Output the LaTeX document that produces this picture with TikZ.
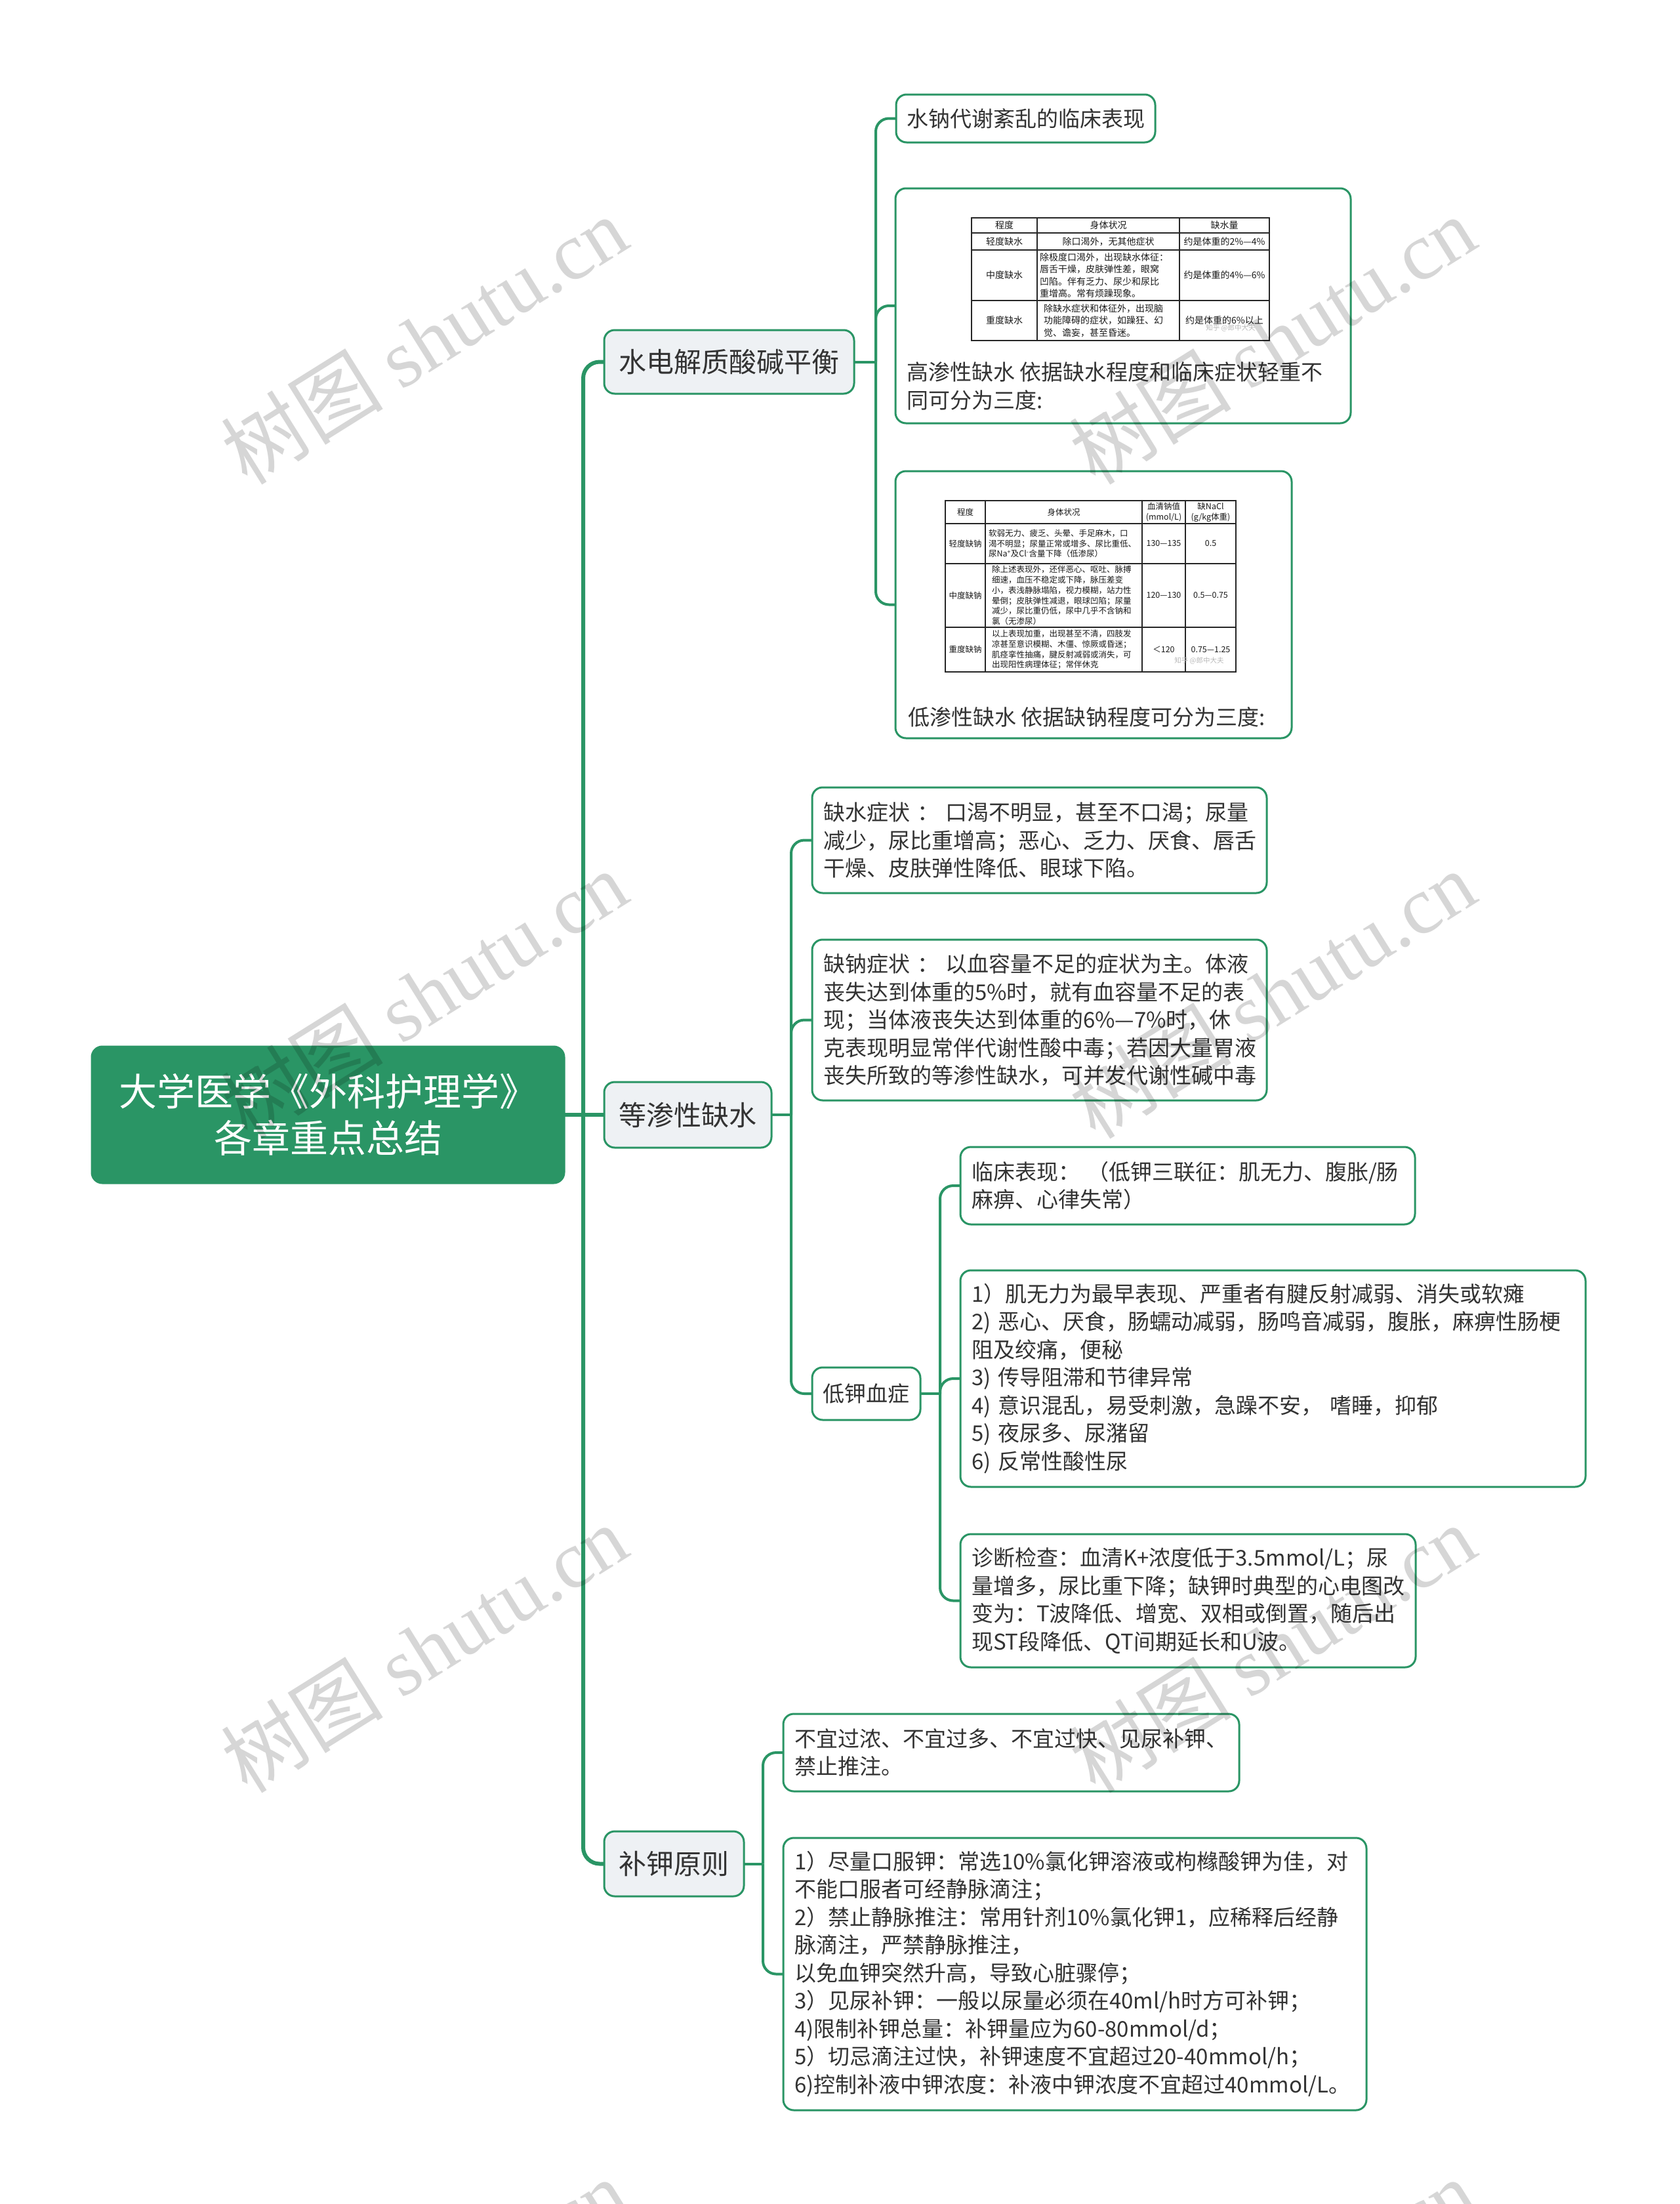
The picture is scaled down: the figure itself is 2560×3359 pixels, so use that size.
\documentclass[tikz,border=0pt]{standalone}
\usepackage{fontspec}
\setmainfont{Noto Sans CJK SC}
\newfontfamily\wmserif{Liberation Serif}
\definecolor{G}{HTML}{2A9565}
\definecolor{LF}{HTML}{EEF1F4}
\definecolor{TX}{HTML}{333333}
\begin{document}
\begin{tikzpicture}[x=1pt,y=-1pt,
  every node/.style={inner sep=0pt, outer sep=0pt, text=TX},
  rootbox/.style={fill=G, draw=G, line width=3pt, rounded corners=16pt, text=white, align=center, font=\fontsize{58}{71}\selectfont},
  topicbox/.style={fill=LF, draw=G, line width=3pt, rounded corners=16pt, align=center, font=\fontsize{42}{50}\selectfont},
  leafbox/.style={fill=white, draw=G, line width=3pt, rounded corners=16pt, align=left, inner xsep=17pt, font=\fontsize{33}{42.5}\selectfont},
  labelbox/.style={fill=white, draw=G, line width=3pt, rounded corners=16pt, align=center, font=\fontsize{33}{42.5}\selectfont},
  tablebox/.style={fill=white, draw=G, line width=3pt, rounded corners=16pt},
  capt/.style={anchor=west, align=left, font=\fontsize{33}{43}\selectfont},
  trunkline/.style={draw=G, line width=6pt, rounded corners=25pt},
  branchline/.style={draw=G, line width=4pt, rounded corners=20pt},
  gridline/.style={draw=black!85, line width=1.4pt},
  ta/.style={text=black!90, align=center, font=\fontsize{14}{18.5}\selectfont},
  tb/.style={text=black!90, align=center, font=\fontsize{12.5}{15.8}\selectfont},
  srcmark/.style={text=black!28, font=\fontsize{10.5}{12}\selectfont},
  wmark/.style={rotate=32, text=black, opacity=0.16, font=\fontsize{124}{124}\selectfont}
]
\fill[white] (0,0) rectangle (2560,3359);
\useasboundingbox (0,0) rectangle (2560,3359);

% ---------- root and topics ----------
\node[rootbox, minimum width=720pt, minimum height=208pt] (root) at (500,1699) {大学医学《外科护理学》\\各章重点总结};
\node[topicbox, minimum width=381pt, minimum height=97pt] (n1) at (1111.5,551.5) {水电解质酸碱平衡};
\node[topicbox, minimum width=255pt, minimum height=100pt] (n2) at (1048.5,1699) {等渗性缺水};
\node[topicbox, minimum width=213pt, minimum height=99pt] (n3) at (1027.5,2840.5) {补钾原则};

% ---------- 水电解质酸碱平衡 ----------
\node[labelbox, minimum width=395pt, minimum height=73pt] (a1) at (1563.5,180.5) {水钠代谢紊乱的临床表现};
\node[tablebox, minimum width=694pt, minimum height=358pt] (a2) at (1712,466) {};
\node[tablebox, minimum width=604pt, minimum height=407pt] (a3) at (1667,921.5) {};

% table 1
\draw[gridline] (1481,332) rectangle (1935,519);
\draw[gridline] (1481,355) -- (1935,355) (1481,381) -- (1935,381) (1481,458) -- (1935,458);
\draw[gridline] (1581,332) -- (1581,519) (1798,332) -- (1798,519);
\node[ta] (t1h1) at (1531,343.5) {程度};
\node[ta] (t1h2) at (1689.5,343.5) {身体状况};
\node[ta] (t1h3) at (1866.5,343.5) {缺水量};
\node[ta] (t1r1a) at (1531,368) {轻度缺水};
\node[ta] (t1r1b) at (1689.5,368) {除口渴外，无其他症状};
\node[ta] (t1r1c) at (1866.5,368) {约是体重的2\%—4\%};
\node[ta] (t1r2a) at (1531,419.5) {中度缺水};
\node[ta, anchor=west, align=left] (t1r2b) at (1585,419.5) {除极度口渴外，出现缺水体征：\\唇舌干燥，皮肤弹性差，眼窝\\凹陷。伴有乏力、尿少和尿比\\重增高。常有烦躁现象。};
\node[ta] (t1r2c) at (1866.5,419.5) {约是体重的4\%—6\%};
\node[ta] (t1r3a) at (1531,488.5) {重度缺水};
\node[ta, anchor=west, align=left] (t1r3b) at (1591,488.5) {除缺水症状和体征外，出现脑\\功能障碍的症状，如躁狂、幻\\觉、谵妄，甚至昏迷。};
\node[ta] (t1r3c) at (1866.5,488.5) {约是体重的6\%以上};
\node[srcmark] (t1src) at (1876,500) {知乎 @郎中大夫};
\node[capt] (cap1) at (1382,588.5) {高渗性缺水 依据缺水程度和临床症状轻重不\\同可分为三度:};

% table 2
\draw[gridline] (1441,763) rectangle (1884,1024);
\draw[gridline] (1441,798) -- (1884,798) (1441,859) -- (1884,859) (1441,956) -- (1884,956);
\draw[gridline] (1502,763) -- (1502,1024) (1741,763) -- (1741,1024) (1807,763) -- (1807,1024);
\node[tb] (t2h1) at (1471.5,780.5) {程度};
\node[tb] (t2h2) at (1621.5,780.5) {身体状况};
\node[tb] (t2h3) at (1774,780.5) {血清钠值\\(mmol/L)};
\node[tb] (t2h4) at (1845.5,780.5) {缺NaCl\\(g/kg体重)};
\node[tb] (t2r1a) at (1471.5,828.5) {轻度缺钠};
\node[tb, anchor=west, align=left] (t2r1b) at (1507,828.5) {软弱无力、疲乏、头晕、手足麻木，口\\渴不明显；尿量正常或增多、尿比重低、\\尿Na\textsuperscript{+}及Cl\textsuperscript{-}含量下降（低渗尿）};
\node[tb] (t2r1c) at (1774,828.5) {130—135};
\node[tb] (t2r1d) at (1845.5,828.5) {0.5};
\node[tb] (t2r2a) at (1471.5,907.5) {中度缺钠};
\node[tb, anchor=west, align=left] (t2r2b) at (1512,907.5) {除上述表现外，还伴恶心、呕吐、脉搏\\细速，血压不稳定或下降，脉压差变\\小，表浅静脉塌陷，视力模糊，站力性\\晕倒；皮肤弹性减退，眼球凹陷；尿量\\减少，尿比重仍低，尿中几乎不含钠和\\氯（无渗尿）};
\node[tb] (t2r2c) at (1774,907.5) {120—130};
\node[tb] (t2r2d) at (1845.5,907.5) {0.5—0.75};
\node[tb] (t2r3a) at (1471.5,990) {重度缺钠};
\node[tb, anchor=west, align=left] (t2r3b) at (1512,990) {以上表现加重，出现甚至不清，四肢发\\凉甚至意识模糊、木僵、惊厥或昏迷；\\肌痉挛性抽痛，腱反射减弱或消失，可\\出现阳性病理体征；常伴休克};
\node[tb] (t2r3c) at (1774,990) {＜120};
\node[tb] (t2r3d) at (1845.5,990) {0.75—1.25};
\node[srcmark] (t2src) at (1828,1007) {知乎 @郎中大夫};
\node[capt] (cap2) at (1384,1093) {低渗性缺水 依据缺钠程度可分为三度:};

% ---------- 等渗性缺水 ----------
\node[leafbox, minimum width=693pt, minimum height=161pt, text width=659pt] (b1) at (1584.5,1280.5) {缺水症状~：~口渴不明显，甚至不口渴；尿量\\减少，尿比重增高；恶心、乏力、厌食、唇舌\\干燥、皮肤弹性降低、眼球下陷。};
\node[leafbox, minimum width=693pt, minimum height=245pt, text width=659pt] (b2) at (1584.5,1554.5) {缺钠症状~：~以血容量不足的症状为主。体液\\丧失达到体重的5\%时，就有血容量不足的表\\现；当体液丧失达到体重的6\%—7\%时，休\\克表现明显常伴代谢性酸中毒；若因大量胃液\\丧失所致的等渗性缺水，可并发代谢性碱中毒};
\node[labelbox, minimum width=165pt, minimum height=80pt] (b3) at (1320.5,2124) {低钾血症};

\node[leafbox, minimum width=693pt, minimum height=118pt, text width=659pt] (c1) at (1810.5,1807) {临床表现：~（低钾三联征：肌无力、腹胀/肠\\麻痹、心律失常）};
\node[leafbox, minimum width=953pt, minimum height=330pt, text width=919pt] (c2) at (1940.5,2101) {1）肌无力为最早表现、严重者有腱反射减弱、消失或软瘫\\2)~恶心、厌食，肠蠕动减弱，肠鸣音减弱，腹胀，麻痹性肠梗\\阻及绞痛，便秘\\3)~传导阻滞和节律异常\\4)~意识混乱，易受刺激，急躁不安，~嗜睡，抑郁\\5)~夜尿多、尿潴留\\6)~反常性酸性尿};
\node[leafbox, minimum width=694pt, minimum height=203pt, text width=660pt] (c3) at (1811,2439.5) {诊断检查：血清K+浓度低于3.5mmol/L；尿\\量增多，尿比重下降；缺钾时典型的心电图改\\变为：T波降低、增宽、双相或倒置，随后出\\现ST段降低、QT间期延长和U波。};

% ---------- 补钾原则 ----------
\node[leafbox, minimum width=695pt, minimum height=118pt, text width=661pt] (d1) at (1541.5,2671) {不宜过浓、不宜过多、不宜过快、见尿补钾、\\禁止推注。};
\node[leafbox, minimum width=889pt, minimum height=415pt, text width=855pt] (d2) at (1638.5,3008.5) {1）尽量口服钾：常选10\%氯化钾溶液或枸橼酸钾为佳，对\\不能口服者可经静脉滴注；\\2）禁止静脉推注：常用针剂10\%氯化钾1，应稀释后经静\\脉滴注，严禁静脉推注，\\以免血钾突然升高，导致心脏骤停；\\3）见尿补钾：一般以尿量必须在40ml/h时方可补钾；\\4)限制补钾总量：补钾量应为60-80mmol/d；\\5）切忌滴注过快，补钾速度不宜超过20-40mmol/h；\\6)控制补液中钾浓度：补液中钾浓度不宜超过40mmol/L。};

% ---------- connectors ----------
\draw[trunkline] (root.east) -- (n2.west);
\draw[trunkline] (root.east) ++(29,0) |- (n1.west);
\draw[trunkline] (root.east) ++(29,0) |- (n3.west);

\draw[branchline] (n1.east) -- ++(33,0);
\draw[branchline] (n1.east) ++(33,0) |- (a1.west);
\draw[branchline] (n1.east) ++(33,0) |- (a2.west);
\draw[branchline] (n1.east) ++(33,0) |- (a3.west);

\draw[branchline] (n2.east) -- ++(30,0);
\draw[branchline] (n2.east) ++(30,0) |- (b1.west);
\draw[branchline] (n2.east) ++(30,0) |- (b2.west);
\draw[branchline] (n2.east) ++(30,0) |- (b3.west);

\draw[branchline] (b3.east) -- ++(30,0);
\draw[branchline] (b3.east) ++(30,0) |- (c1.west);
\draw[branchline] (b3.east) ++(30,0) |- (c2.west);
\draw[branchline] (b3.east) ++(30,0) |- (c3.west);

\draw[branchline] (n3.east) -- ++(29,0);
\draw[branchline] (n3.east) ++(29,0) |- (d1.west);
\draw[branchline] (n3.east) ++(29,0) |- (d2.west);

% ---------- watermarks ----------
\foreach \wx/\wy [count=\i] in {646/518, 1939/518, 646/1515, 1939/1515, 646/2512, 1939/2512, 646/3509, 1939/3509}{
  \node[wmark] (wm\i) at (\wx,\wy) {树图~{\wmserif shutu.cn}};
}
\end{tikzpicture}
\end{document}
